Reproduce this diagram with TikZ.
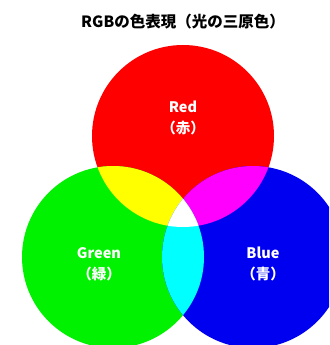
\documentclass[tikz,border=0pt]{standalone}
\usepackage{fontspec}
\setmainfont{Noto Sans CJK JP}
\definecolor{cR}{HTML}{FF0000}
\definecolor{cG}{HTML}{00F200}
\definecolor{cB}{HTML}{0000F0}
\definecolor{cY}{HTML}{FFFF00}
\definecolor{cM}{HTML}{FF00FF}
\definecolor{cC}{HTML}{00FFFF}
\tikzset{
  lbl/.style={text=white, font=\fontsize{14.5}{21}\selectfont\bfseries, align=center, inner sep=0pt},
  ttl/.style={text=black, font=\fontsize{15.5}{17}\selectfont\bfseries, inner sep=0pt}
}
\begin{document}
\begin{tikzpicture}[x=1pt,y=-1pt]
\useasboundingbox (0,0) rectangle (329,345);
\fill[white] (0,0) rectangle (329,345);
\begin{scope}
\clip (0,0) rectangle (329,345);
\coordinate (r) at (183,136);
\coordinate (g) at (113,257);
\coordinate (b) at (253,257);
\def\rad{91}
\fill[cR] (r) circle (\rad);
\fill[cG] (g) circle (\rad);
\fill[cB] (b) circle (\rad);
\begin{scope}
\clip (r) circle (\rad);
\fill[cY] (g) circle (\rad);
\fill[cM] (b) circle (\rad);
\end{scope}
\begin{scope}
\clip (g) circle (\rad);
\fill[cC] (b) circle (\rad);
\end{scope}
\begin{scope}
\clip (r) circle (\rad);
\clip (g) circle (\rad);
\fill[white] (b) circle (\rad);
\end{scope}
\end{scope}
\node[ttl] (title) at (183,22) {RGBの色表現（光の三原色）};
\node[lbl] (red) at (183,118) {Red\\（赤）};
\node[lbl] (green) at (99,264) {Green\\（緑）};
\node[lbl] (blue) at (263,264) {Blue\\（青）};
\end{tikzpicture}
\end{document}
